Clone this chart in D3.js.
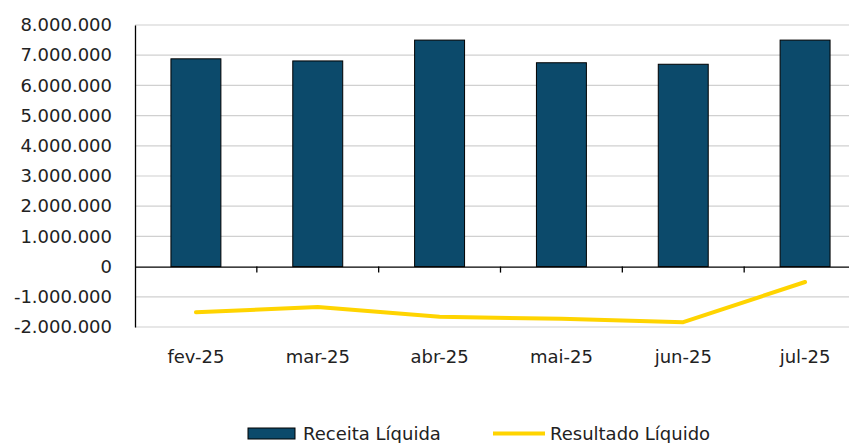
<!DOCTYPE html>
<html>
<head>
<meta charset="utf-8">
<script src="https://cdn.jsdelivr.net/npm/d3@7"></script>
<style>
  body { margin: 0; background: #fff; }
  text { font-family: "DejaVu Sans", sans-serif; fill: #222; }
</style>
</head>
<body>
<div id="chart"></div>
<script>
// data
const months = ["fev-25", "mar-25", "abr-25", "mai-25", "jun-25", "jul-25"];
const receita = [6880000, 6810000, 7500000, 6750000, 6700000, 7500000];
const resultado = [-1510000, -1340000, -1660000, -1730000, -1840000, -510000];
const yTicks = [-2000000, -1000000, 0, 1000000, 2000000, 3000000, 4000000, 5000000, 6000000, 7000000, 8000000];

const svgWidth = 849;
const svgHeight = 443;
const barColor = "#0C4A6B";
const lineColor = "#FFD400";

const br = d3.formatLocale({ decimal: ",", thousands: ".", grouping: [3], currency: ["R$", ""], minus: "-" });
const fmt = br.format(",.0f");

const svg = d3.select("#chart")
    .append("svg")
    .attr("width", svgWidth)
    .attr("height", svgHeight);

const x = d3.scaleBand()
    .domain(months)
    .range([135, 866])
    .paddingInner(0.59)
    .paddingOuter(0.295);

const xCat = d3.scaleBand()
    .domain(months)
    .range([135, 866]);

const y = d3.scaleLinear()
    .domain([-2000000, 8000000])
    .range([327, 25]);

// gridlines
svg.append("g")
    .selectAll("line")
    .data(yTicks.filter(d => d !== 0))
    .enter()
    .append("line")
    .attr("x1", 135)
    .attr("x2", svgWidth)
    .attr("y1", d => y(d))
    .attr("y2", d => y(d))
    .attr("stroke", "#d0d0d0")
    .attr("stroke-width", 1.2);

// bars
svg.append("g")
    .selectAll("rect")
    .data(receita)
    .enter()
    .append("rect")
    .attr("x", (d, i) => x(months[i]))
    .attr("y", d => y(d))
    .attr("width", x.bandwidth())
    .attr("height", d => y(0) - y(d))
    .attr("fill", barColor)
    .attr("stroke", "#000")
    .attr("stroke-width", 1);

// y axis
const yAxis = d3.axisLeft(y)
    .tickValues(yTicks)
    .tickSize(0)
    .tickPadding(23)
    .tickFormat(fmt);

const gy = svg.append("g")
    .attr("transform", "translate(135,0)")
    .call(yAxis);
gy.select(".domain").attr("stroke", "#000").attr("stroke-width", 1.3);
gy.selectAll("text")
    .style("font-size", "18px")
    .style("font-family", "DejaVu Sans, sans-serif")
    .attr("fill", "#222");

// zero line with category ticks
const xAxis = d3.axisBottom(xCat)
    .tickValues([])
    .tickSizeOuter(0);
const gx = svg.append("g")
    .attr("transform", `translate(0,${y(0)})`)
    .call(xAxis);
gx.select(".domain").attr("stroke", "#000").attr("stroke-width", 1.3);
gx.selectAll(".cat-tick")
    .data(months.slice(1))
    .enter()
    .append("line")
    .attr("class", "cat-tick")
    .attr("x1", d => xCat(d))
    .attr("x2", d => xCat(d))
    .attr("y1", 0)
    .attr("y2", 6)
    .attr("stroke", "#000")
    .attr("stroke-width", 1.3);

// category labels below the plot
svg.append("g")
    .selectAll("text")
    .data(months)
    .enter()
    .append("text")
    .attr("x", d => xCat(d) + xCat.bandwidth() / 2)
    .attr("y", 363)
    .attr("text-anchor", "middle")
    .style("font-size", "18px")
    .text(d => d);

// line
const line = d3.line()
    .x((d, i) => x(months[i]) + x.bandwidth() / 2)
    .y(d => y(d));

svg.append("path")
    .datum(resultado)
    .attr("d", line)
    .attr("fill", "none")
    .attr("stroke", lineColor)
    .attr("stroke-width", 4)
    .attr("stroke-linecap", "round")
    .attr("stroke-linejoin", "round");

// legend
const legend = svg.append("g");
legend.append("rect")
    .attr("x", 248)
    .attr("y", 428)
    .attr("width", 47)
    .attr("height", 11)
    .attr("fill", barColor)
    .attr("stroke", "#000")
    .attr("stroke-width", 1);
legend.append("text")
    .attr("x", 303)
    .attr("y", 440)
    .style("font-size", "18px")
    .text("Receita Líquida");
legend.append("line")
    .attr("x1", 493)
    .attr("x2", 545)
    .attr("y1", 433.5)
    .attr("y2", 433.5)
    .attr("stroke", lineColor)
    .attr("stroke-width", 4);
legend.append("text")
    .attr("x", 550)
    .attr("y", 440)
    .style("font-size", "18px")
    .text("Resultado Líquido");
</script>
</body>
</html>
